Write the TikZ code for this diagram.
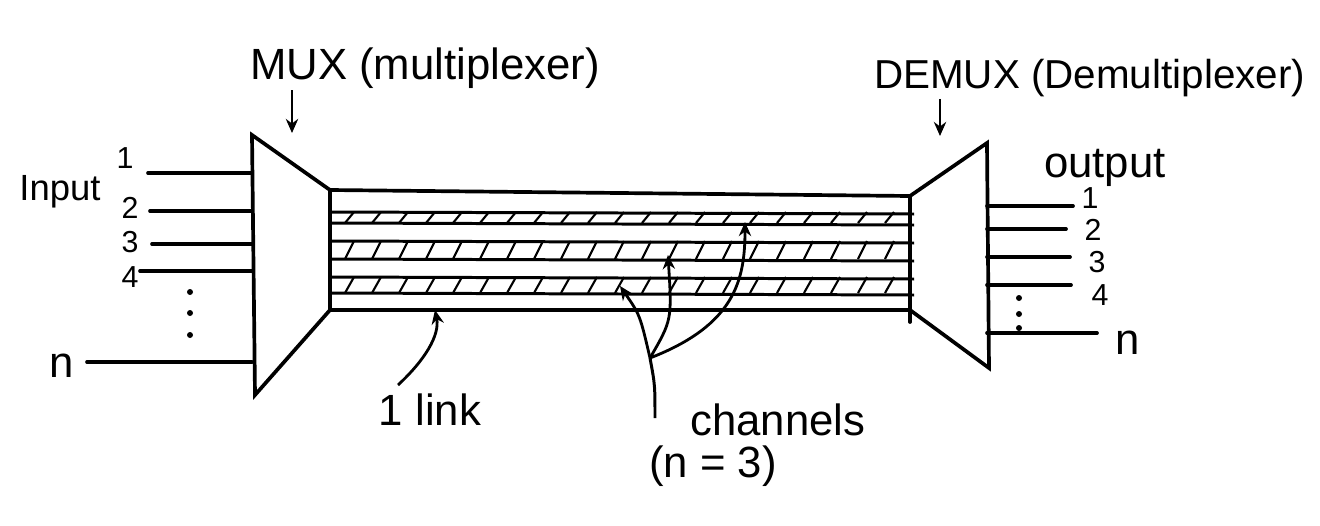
\documentclass[tikz,border=0pt]{standalone}
\usepackage{fontspec}
\setmainfont{Liberation Sans}
\usetikzlibrary{arrows.meta, positioning}

\begin{document}
\begin{tikzpicture}[
    x=0.02cm, y=-0.02cm,
    wire/.style={line width=2.1pt, line cap=round},
    chline/.style={line width=1.7pt},
    hatch/.style={line width=1.2pt},
    pointer/.style={line width=1.6pt, -{Stealth[length=8pt,width=7pt]}},
    num/.style={font=\LARGE, inner sep=0pt},
    big/.style={font=\Huge, inner sep=1pt}
]
\useasboundingbox (0,0) rectangle (1320,525);

% MUX block
\coordinate (mux tl) at (252,135);
\coordinate (mux bl) at (255,395);
\coordinate (mux tr) at (330,190);
\coordinate (mux br) at (330,310);
\draw[wire] (mux tl) -- (mux bl) -- (mux br) -- (mux tr) -- cycle;

% DEMUX block
\coordinate (dmx tl) at (910,196);
\coordinate (dmx bl) at (910,310);
\coordinate (dmx tr) at (987,143);
\coordinate (dmx br) at (989,368);
\draw[wire] (dmx tl) -- (dmx tr) -- (dmx br) -- (dmx bl) -- cycle;
\draw[wire] (dmx bl) -- ++(0,12);

% Link with three channels
\draw[wire] (mux tr) -- (dmx tl);
\draw[wire] (mux br) -- (dmx bl);
\foreach \y in {212,223,241,259,277,293}
    \draw[chline] (330,\y) -- (914,\y+2);
\foreach \top/\bot in {212/223, 241/259, 277/293}
    \foreach \x in {345,372,...,895}
        \draw[hatch] (\x,\bot) -- (\x+9,\top);

% Inputs
\foreach \n/\y/\s in {1/173/148, 2/211/150, 3/244/152, 4/271/140, n/362/87} {
    \coordinate (in\n) at (\s,\y);
    \draw[wire] (in\n) -- (in\n -| mux tl);
}
\node[num] (lin1) at (125,158) {1};
\node[num] (lin2) at (130,208) {2};
\node[num] (lin3) at (130,242) {3};
\node[num] (lin4) at (130,277) {4};
\node[big] (linn) at (62,366) {n};
\foreach \y in {292,313,335}
    \fill (190,\y) circle (3);
\node[font=\huge, inner sep=1pt] (inlbl) at (60,192) {Input};

% Outputs
\foreach \n/\y/\e in {1/206/1073, 2/229/1066, 3/257/1070, 4/285/1071, n/333/1097} {
    \coordinate (out\n) at (\e,\y);
    \draw[wire] (out\n -| dmx tr) -- (out\n);
}
\node[num] (lout1) at (1090,198) {1};
\node[num] (lout2) at (1093,230) {2};
\node[num] (lout3) at (1097,262) {3};
\node[num] (lout4) at (1100,295) {4};
\node[big] (loutn) at (1128,343) {n};
\foreach \y in {298,314,328}
    \fill (1019,\y) circle (3);
\node[big] (outlbl) at (1105,168) {output};

% Titles
\node[big] (muxlbl) at (425,68) {MUX (multiplexer)};
\node[font=\fontsize{23}{27}\selectfont, inner sep=1pt, anchor=west] (dmxlbl) at (872,78) {DEMUX (Demultiplexer)};
\coordinate (muxtip) at (292,133);
\coordinate (dmxtip) at (940,136);
\draw[pointer] (muxtip |- muxlbl.south) -- (muxtip);
\draw[pointer] (dmxtip |- dmxlbl.south) -- (dmxtip);

% Link label
\node[big] (linklbl) at (430,410) {1 link};
\coordinate (linkfoot) at (398,385);
\coordinate (linkpt) at (435,310);
\draw[pointer] (linkfoot) .. controls (425,360) and (440,335) .. (linkpt);

% Channels label
\node[big] (chlbl) at (778,420) {channels};
\node[big] (chnum) at (713,466) {(n = 3)};
\coordinate (chfoot) at (655,418);
\coordinate (chfork) at (650,358);
\coordinate (ch1) at (745,222);
\coordinate (ch2) at (668,255);
\coordinate (ch3) at (620,286);
\draw[chline] (chfoot) .. controls (655,385) .. (chfork);
\draw[pointer] (chfork) .. controls (640,315) .. (ch3);
\draw[pointer] (chfork) .. controls (672,320) .. (ch2);
\draw[pointer] (chfork) .. controls (735,325) and (745,280) .. (ch1);

\end{tikzpicture}
\end{document}
